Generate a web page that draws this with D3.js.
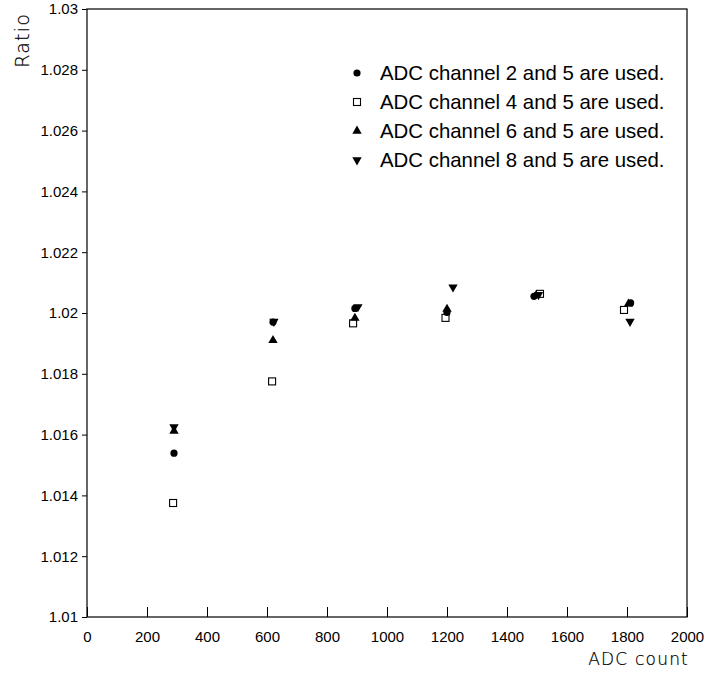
<!DOCTYPE html>
<html><head><meta charset="utf-8">
<script src="https://cdn.jsdelivr.net/npm/d3@7"></script>
<style>body{margin:0;background:#fff}svg{display:block}</style>
</head><body><svg id="c" width="713" height="673"></svg>
<script>
const xTicks = [0,200,400,600,800,1000,1200,1400,1600,1800,2000];
const yTicks = [1.01,1.012,1.014,1.016,1.018,1.02,1.022,1.024,1.026,1.028,1.03];
const yTickLabels = ["1.01","1.012","1.014","1.016","1.018","1.02","1.022","1.024","1.026","1.028","1.03"];
const seriesNames = ["ADC channel 2 and 5 are used.","ADC channel 4 and 5 are used.","ADC channel 6 and 5 are used.","ADC channel 8 and 5 are used."];
const ch2x = [290, 620, 893, 1200, 1490, 1812];
const ch2y = [1.01539, 1.01970, 1.02015, 1.02002, 1.02055, 1.02033];
const ch4x = [287, 617, 887, 1195, 1510, 1790];
const ch4y = [1.01375, 1.01775, 1.01966, 1.01984, 1.02063, 1.02010];
const ch6x = [290, 620, 893, 1200, 1497, 1805];
const ch6y = [1.01612, 1.01910, 1.01983, 1.02013, 1.02058, 1.02030];
const ch8x = [290, 623, 903, 1220, 1505, 1810];
const ch8y = [1.01625, 1.01972, 1.02020, 1.02085, 1.02060, 1.01972];

const svg = d3.select("#c");
const L=87, R=687, T=9, B=617;
const x = d3.scaleLinear().domain([0,2000]).range([L,R]);
const y = d3.scaleLinear().domain([1.01,1.03]).range([B,T]);
const font = "'Liberation Sans', Arial, Helvetica, sans-serif";
const thin = "'DejaVu Sans', 'Liberation Sans', sans-serif";

// frame
svg.append("rect").attr("x",L).attr("y",T).attr("width",R-L).attr("height",B-T)
  .attr("fill","none").attr("stroke","#000").attr("stroke-width",1.2);

// x axis
const xa = svg.append("g").attr("transform",`translate(0,${B})`)
  .call(d3.axisBottom(x).tickValues(xTicks).tickSizeInner(-10).tickSizeOuter(0).tickPadding(14).tickFormat(d3.format("d")));
xa.select(".domain").remove();
xa.selectAll("line").attr("stroke","#000");
xa.selectAll("text").attr("font-family",font).attr("font-size",15).attr("fill","#000");
// y axis
const ya = svg.append("g").attr("transform",`translate(${L},0)`)
  .call(d3.axisLeft(y).tickValues(yTicks).tickSizeInner(5).tickSizeOuter(0).tickPadding(4).tickFormat((d,i)=>yTickLabels[i]));
ya.select(".domain").remove();
ya.selectAll("line").attr("stroke","#000");
ya.selectAll("text").attr("font-family",font).attr("font-size",15).attr("fill","#000");

// axis titles
svg.append("text").attr("x",689).attr("y",665).attr("text-anchor","end")
  .attr("font-family",thin).attr("font-size",17).attr("letter-spacing",1.2).attr("font-weight",200).attr("stroke","#000").attr("stroke-width",0.2).text("ADC count");
svg.append("text").attr("transform","translate(29,13) rotate(-90)").attr("text-anchor","end")
  .attr("font-family",thin).attr("font-size",19).attr("letter-spacing",1.2).attr("font-weight",200).attr("stroke","#000").attr("stroke-width",0.2).text("Ratio");

const triUp = d3.symbol().type(d3.symbolTriangle).size(38);
function drawMarker(g, kind, cx, cy){
  if(kind===0) g.append("circle").attr("cx",cx).attr("cy",cy).attr("r",3.6).attr("fill","#000");
  else if(kind===1) g.append("rect").attr("x",cx-3.5).attr("y",cy-3.5).attr("width",7).attr("height",7).attr("fill","#fff").attr("stroke","#000").attr("stroke-width",1.1);
  else if(kind===2) g.append("path").attr("d",triUp()).attr("transform",`translate(${cx},${cy})`).attr("fill","#000");
  else g.append("path").attr("d",triUp()).attr("transform",`translate(${cx},${cy}) rotate(180)`).attr("fill","#000");
}
const series = [[ch4x,ch4y],[ch6x,ch6y],[ch8x,ch8y],[ch2x,ch2y]];
const kinds = [1,2,3,0];
const pts = svg.append("g");
series.forEach((s,k)=>{
  s[0].forEach((xv,i)=>drawMarker(pts,kinds[k],x(xv),y(s[1][i])));
});

// legend
const lg = svg.append("g");
seriesNames.forEach((n,i)=>{
  const yy = 73 + i*29;
  drawMarker(lg,i,357,yy);
  lg.append("text").attr("x",380).attr("y",yy+7).attr("font-family",font).attr("font-size",20.4).text(n);
});
</script></body></html>
